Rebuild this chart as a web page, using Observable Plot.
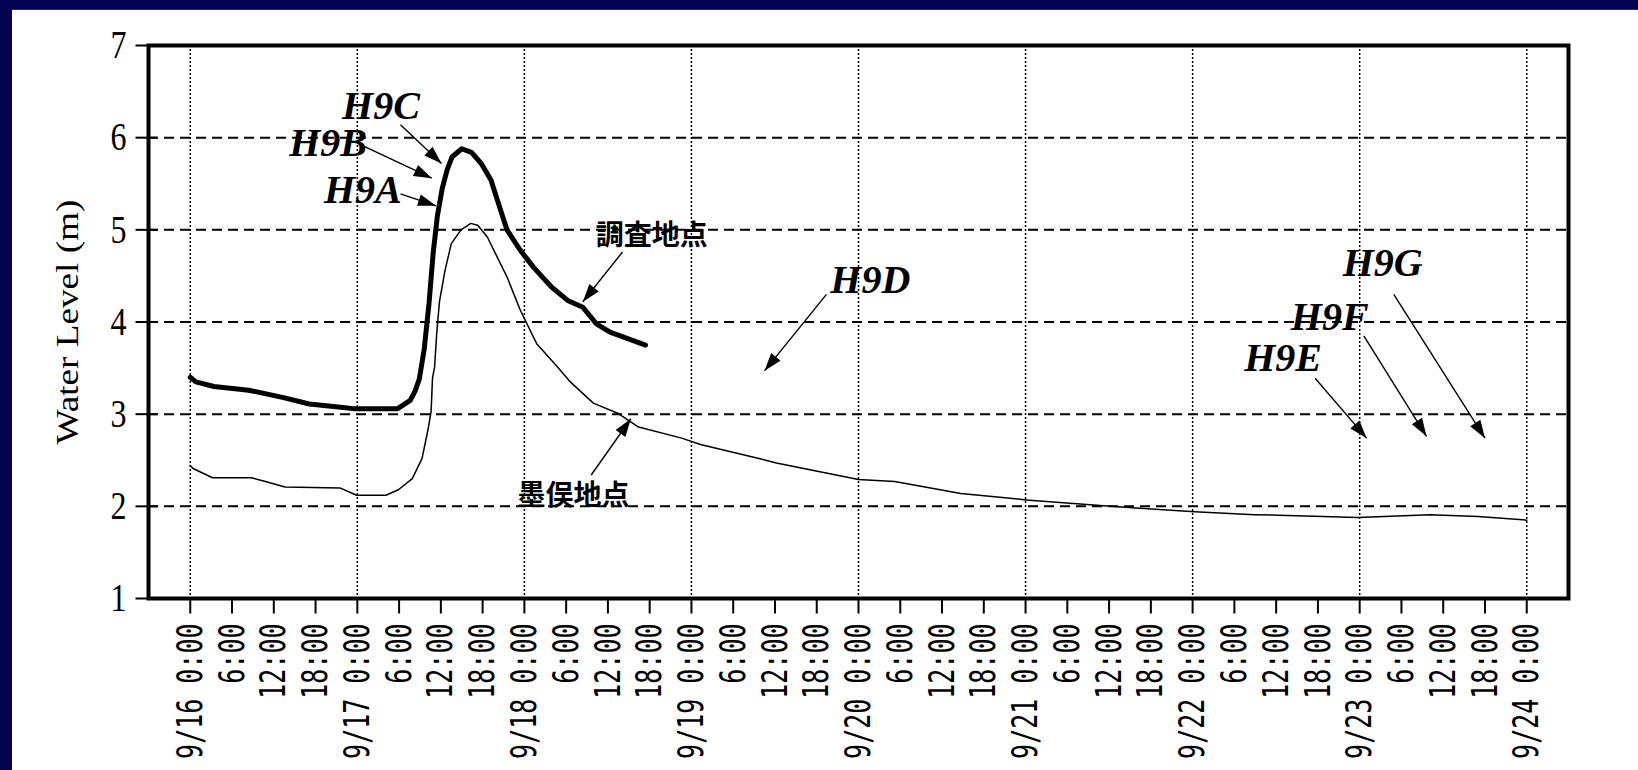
<!DOCTYPE html>
<html>
<head>
<meta charset="utf-8">
<script src="https://cdn.jsdelivr.net/npm/d3@7"></script>
<script src="https://cdn.jsdelivr.net/npm/@observablehq/plot@0.6"></script>
<style>
html, body { margin: 0; padding: 0; background: #ffffff; overflow: hidden; width: 1638px; height: 770px; }
#wrap { position: absolute; left: 0; top: 0; width: 1638px; height: 770px; background: #ffffff; overflow: hidden; }
#chart svg { display: block; max-width: none !important; }
.band { position: absolute; background: #03034f; }
#bandTop { left: 0; top: 0; width: 1638px; height: 9px; border-bottom: 1px solid #2a2a7a; }
#bandLeft { left: 0; top: 0; width: 12px; height: 770px; }
#rightPad { position: absolute; left: 1590px; top: 10px; width: 48px; height: 760px; background: #ffffff; }
</style>
</head>
<body>
<div id="wrap">
  <div id="chart"></div>
  <div id="rightPad"></div>
  <div class="band" id="bandTop"></div>
  <div class="band" id="bandLeft"></div>
</div>
<script>
// ---------------- data ----------------
const YEAR = "2000";
// thick line: 調査地点 (survey point)
const thickTimes = ["09-16 00:00","09-16 00:48","09-16 03:24","09-16 08:24","09-16 13:24","09-16 17:06","09-16 20:54","09-16 23:24",
  "09-17 05:48","09-17 07:36","09-17 08:18","09-17 08:54","09-17 09:36","09-17 10:18","09-17 10:54","09-17 11:30","09-17 12:12",
  "09-17 12:54","09-17 13:36","09-17 15:00","09-17 16:24","09-17 17:48","09-17 19:12","09-17 20:36","09-17 21:30","09-17 23:24",
  "09-18 01:21","09-18 03:54","09-18 06:18","09-18 08:24","09-18 10:21","09-18 12:18","09-18 14:51","09-18 17:24"];
const thickLevels = [3.40,3.35,3.30,3.26,3.18,3.11,3.08,3.06,
  3.06,3.15,3.25,3.38,3.70,4.20,4.75,5.15,5.45,
  5.65,5.79,5.88,5.84,5.72,5.54,5.21,5.00,4.78,
  4.59,4.38,4.23,4.16,3.98,3.89,3.82,3.75];

// thin line: 墨俣地点 (Sunomata)
const thinTimes = ["09-16 00:00","09-16 00:24","09-16 03:12","09-16 08:48","09-16 10:48","09-16 13:36","09-16 21:30","09-16 23:54",
  "09-17 04:06","09-17 05:54","09-17 07:54","09-17 09:18","09-17 10:12","09-17 10:36","09-17 10:48","09-17 11:06","09-17 11:24",
  "09-17 11:48","09-17 12:36","09-17 13:30","09-17 14:54","09-17 16:18","09-17 17:18","09-17 18:42","09-17 19:36","09-17 21:30",
  "09-17 23:24","09-18 01:48","09-18 04:48","09-18 06:36","09-18 09:54","09-18 13:24","09-18 16:24","09-18 22:36",
  "09-19 01:18","09-19 09:42","09-19 12:12","09-20 00:00","09-20 05:12","09-20 14:42","09-21 00:06","09-21 12:12",
  "09-22 00:18","09-22 08:54","09-22 23:42","09-23 10:06","09-23 17:00","09-24 00:00"];
const thinLevels = [2.44,2.41,2.31,2.31,2.27,2.21,2.20,2.12,
  2.12,2.18,2.30,2.52,2.85,3.03,3.39,3.51,3.87,
  4.22,4.56,4.85,5.00,5.07,5.05,4.92,4.78,4.49,
  4.13,3.76,3.51,3.35,3.12,3.01,2.86,2.74,
  2.67,2.52,2.47,2.29,2.27,2.14,2.07,2.00,
  1.94,1.91,1.88,1.91,1.89,1.85];

// station labels
const stationNames  = ["H9A","H9B","H9C","H9D","H9E","H9F","H9G"];
const stationTimes  = ["09-17 00:48","09-16 19:48","09-17 03:24","09-20 01:42","09-22 13:00","09-22 19:42","09-23 03:18"];
const stationLevels = [5.43,5.94,6.34,4.45,3.61,4.05,4.64];

// site labels
const siteNames  = ["調査地点","墨俣地点"];
const siteTimes  = ["09-18 18:18","09-18 07:03"];
const siteLevels = [4.93,2.11];

// arrows (from label to target): H9A..H9G, 調査地点, 墨俣地点
const arrowFromTimes  = ["09-17 06:12","09-17 00:36","09-17 06:12","09-19 19:24","09-22 17:36","09-23 00:36","09-23 04:54","09-18 14:06","09-18 09:36"];
const arrowFromLevels = [5.39,5.92,6.14,4.30,3.39,3.85,4.30,4.76,2.34];
const arrowToTimes    = ["09-17 11:18","09-17 10:42","09-17 12:06","09-19 10:30","09-23 01:00","09-23 09:36","09-23 18:00","09-18 08:24","09-18 15:18"];
const arrowToLevels   = [5.26,5.56,5.72,3.47,2.74,2.76,2.74,4.22,2.95];

// axes
const xDomainTimes = ["09-15 18:00","09-24 06:00"];
const xTickStart = "09-16 00:00", xTickEnd = "09-24 00:00";
const dayGridTimes = ["09-16 00:00","09-17 00:00","09-18 00:00","09-19 00:00","09-20 00:00","09-21 00:00","09-22 00:00","09-23 00:00","09-24 00:00"];
const yTicks = [1,2,3,4,5,6,7];
const yGrid = [2,3,4,5,6];
const yLabel = "Water Level (m)";

// ---------------- build ----------------
const parse = d3.utcParse("%Y-%m-%d %H:%M");
const T = s => parse(YEAR + "-" + s);

const thick = thickTimes.map((t, i) => ({t: T(t), v: thickLevels[i]}));
const thin = thinTimes.map((t, i) => ({t: T(t), v: thinLevels[i]}));
const stations = stationNames.map((n, i) => ({name: n, t: T(stationTimes[i]), v: stationLevels[i]}));
const sites = siteNames.map((n, i) => ({name: n, t: T(siteTimes[i]), v: siteLevels[i]}));
const arrows = arrowFromTimes.map((t, i) => ({t1: T(t), v1: arrowFromLevels[i], t2: T(arrowToTimes[i]), v2: arrowToLevels[i]}));
const xTicks = d3.utcHour.every(6).range(T(xTickStart), new Date(+T(xTickEnd) + 1));
const dayGrid = dayGridTimes.map(T);

const fmtTick = d => {
  const h = d.getUTCHours();
  return h === 0 ? `${d.getUTCMonth() + 1}/${d.getUTCDate()} 0:00` : `${h}:00`;
};

const tickDown = {draw(ctx) { ctx.moveTo(0, 0); ctx.lineTo(0, 15); }};
const tickCross = {draw(ctx) { ctx.moveTo(-13, 0); ctx.lineTo(9, 0); }};

const chart = Plot.plot({
  width: 1638,
  height: 770,
  marginLeft: 148,
  marginRight: 70,
  marginTop: 45,
  marginBottom: 172,
  style: {background: "white", color: "black", fontFamily: "Liberation Serif"},
  x: {type: "utc", domain: xDomainTimes.map(T), axis: null},
  y: {domain: [1, 7], axis: null},
  marks: [
    Plot.ruleY(yGrid, {y: d => d, stroke: "black", strokeWidth: 2, strokeDasharray: "10,6"}),
    Plot.ruleX(dayGrid, {x: d => d, stroke: "black", strokeWidth: 1.5, strokeDasharray: "2,2"}),
    Plot.line(thin, {x: "t", y: "v", stroke: "black", strokeWidth: 1.5}),
    Plot.line(thick, {x: "t", y: "v", stroke: "black", strokeWidth: 5, strokeLinejoin: "round"}),
    Plot.frame({stroke: "black", strokeWidth: 4}),
    Plot.dot(xTicks, {x: d => d, frameAnchor: "bottom", symbol: tickDown, r: 3, fill: "none", stroke: "black", strokeWidth: 2}),
    Plot.dot(yTicks, {y: d => d, frameAnchor: "left", symbol: tickCross, r: 3, fill: "none", stroke: "black", strokeWidth: 2}),
    Plot.text(xTicks, {x: d => d, text: fmtTick, frameAnchor: "bottom", rotate: -90, textAnchor: "end", lineAnchor: "middle", dy: 25,
      fontFamily: "DejaVu Sans Mono", fontSize: 25, fill: "black"}),
    Plot.text(yTicks, {y: d => d, text: d => String(d), frameAnchor: "left", textAnchor: "end", lineAnchor: "middle", dx: -22,
      fontFamily: "Liberation Serif", fontSize: 32, fill: "black"}),
    Plot.text([yLabel], {text: d => d, frameAnchor: "left", rotate: -90, textAnchor: "middle", lineAnchor: "middle", dx: -80,
      fontFamily: "Liberation Serif", fontSize: 31, fill: "black"}),
    Plot.link(arrows, {x1: "t1", y1: "v1", x2: "t2", y2: "v2", stroke: "black", strokeWidth: 1.4, markerEnd: "arrow"}),
    Plot.text(stations, {x: "t", y: "v", text: "name", fontFamily: "Liberation Serif", fontStyle: "italic",
      fontWeight: "bold", fontSize: 40, fill: "black"}),
    Plot.text(sites, {x: "t", y: "v", text: "name", fontFamily: "Noto Sans CJK JP", fontWeight: "bold",
      fontSize: 28, fill: "black"})
  ]
});

// glyph stretching to mimic the enlarged bitmap fonts of the original
const textGroups = Array.from(chart.querySelectorAll('g[aria-label="text"]'));
function stretch(group, sx, sy) {
  if (!group) return;
  group.querySelectorAll("text").forEach(t => {
    let tr = t.getAttribute("transform");
    if (!tr) {
      const x = t.getAttribute("x") || 0, y = t.getAttribute("y") || 0;
      t.removeAttribute("x"); t.removeAttribute("y");
      tr = `translate(${x},${y})`;
    }
    t.setAttribute("transform", `${tr} scale(${sx},${sy})`);
  });
}
stretch(textGroups[0], 1, 1.45); // x tick labels
stretch(textGroups[1], 1, 1.25); // y tick labels
stretch(textGroups[2], 1.2, 1);  // y axis label

// filled arrowheads
chart.querySelectorAll("marker").forEach(m => {
  m.setAttribute("viewBox", "-19 -7 20 14");
  m.setAttribute("markerWidth", 20);
  m.setAttribute("markerHeight", 14);
  m.setAttribute("markerUnits", "userSpaceOnUse");
  m.setAttribute("fill", "black");
  m.setAttribute("stroke", "none");
  while (m.firstChild) m.removeChild(m.firstChild);
  const p = document.createElementNS("http://www.w3.org/2000/svg", "path");
  p.setAttribute("d", "M-18,-6L0,0L-18,6Z");
  m.appendChild(p);
});

document.getElementById("chart").appendChild(chart);
</script>
</body>
</html>
